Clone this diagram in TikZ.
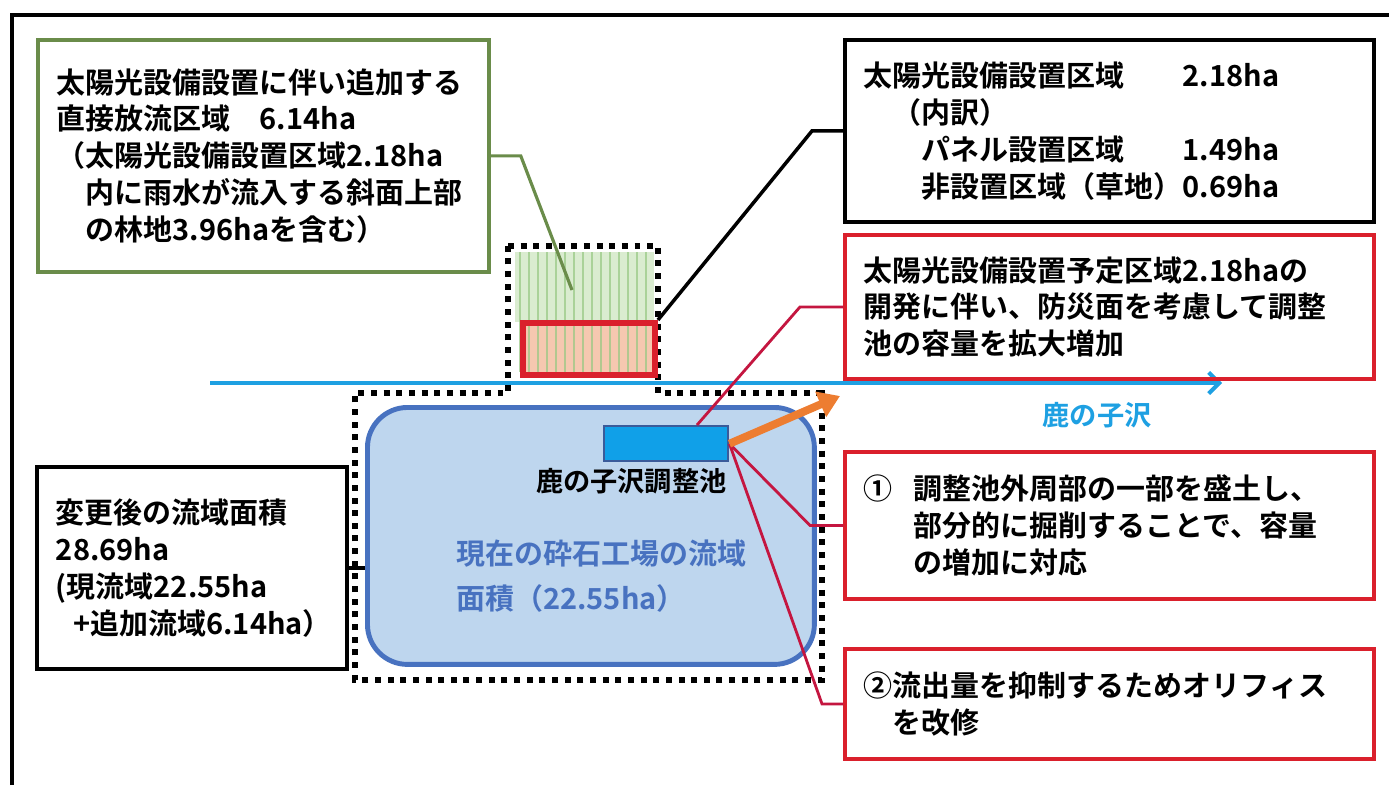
\documentclass[tikz,border=0pt]{standalone}
\usepackage{fontspec}
\setmainfont{Noto Sans CJK JP}[BoldFont={Noto Sans CJK JP Bold}]
\usetikzlibrary{arrows.meta}
\definecolor{boxred}{RGB}{218,32,44}
\definecolor{linkred}{RGB}{196,22,64}
\definecolor{olivegreen}{RGB}{106,140,74}
\definecolor{basinblue}{RGB}{72,114,192}
\definecolor{basinfill}{RGB}{190,214,238}
\definecolor{riverblue}{RGB}{30,160,226}
\definecolor{pondfill}{RGB}{16,160,232}
\definecolor{flowcol}{RGB}{237,125,49}
\definecolor{grass}{RGB}{218,236,208}
\definecolor{salmon}{RGB}{246,200,176}
\definecolor{stripe}{RGB}{150,200,130}

\begin{document}
\begin{tikzpicture}[x=0.02cm,y=-0.02cm,
        every node/.style={font=\fontsize{16.5}{21}\selectfont\bfseries},
        infobox/.style={draw, line width=2.2pt, anchor=north west, align=left,
            inner xsep=0.38cm, text width=9.82cm},
        redbox/.style={infobox, draw=boxred},
        dotline/.style={line width=3.4pt, dash pattern=on 3.4pt off 3.8pt},
        link/.style={linkred, line width=1.6pt}]
    \useasboundingbox (0,0) rectangle (1389,785);
    \draw[line width=2.3pt] (12,785) -- (12,15) -- (1389,15);

    \draw[dotline] (508,246) -- (658,246) -- (658,393) -- (822,393)
        -- (822,680) -- (355,680) -- (355,393) -- (508,393) -- cycle;
    \fill[grass] (515,252) rectangle (654,322);
    \fill[salmon] (520,320) rectangle (652,372);
    \foreach \x in {520,529,...,652}
        \draw[stripe, line width=1.4pt, opacity=0.7] (\x,252) -- (\x,372);
    \node[draw=boxred, line width=3.4pt, anchor=north west,
        minimum width=2.64cm, minimum height=1.04cm] (panel) at (520,320) {};

    \node[draw=basinblue, line width=2.8pt, fill=basinfill, rounded corners=0.8cm,
        anchor=north west, minimum width=8.94cm, minimum height=5.14cm]
        (basin) at (365,405) {};
    \node[draw=basinblue!80!black, line width=1.4pt, fill=pondfill,
        anchor=north west, minimum width=2.48cm, minimum height=0.7cm]
        (pond) at (603,425) {};
    \node[anchor=east, inner sep=0, font=\fontsize{15.5}{19}\selectfont\bfseries]
        (pondlabel) at (727,481) {鹿の子沢調整池};
    \node[anchor=west, align=left, text=basinblue] (basintext) at (450,576)
        {現在の砕石工場の流域\\[5pt]面積（22.55ha）};

    \coordinate (riverstart) at (210,383);
    \coordinate (riverend) at (1222,383);
    \draw[riverblue, line width=2.3pt, -{Straight Barb[length=6pt,width=12pt]}]
        (riverstart) -- (riverend);
    \node[text=riverblue, font=\fontsize{15.5}{19}\selectfont\bfseries]
        (riverlabel) at (1097,415) {鹿の子沢};

    \node[infobox, draw=olivegreen, text width=8.26cm, minimum height=4.64cm]
        (gbox) at (36,38)
        {太陽光設備設置に伴い追加する\\直接放流区域　6.14ha\\（太陽光設備設置区域2.18ha\\　内に雨水が流入する斜面上部\\　の林地3.96haを含む）};
    \node[infobox, minimum height=3.64cm] (kbox) at (843,38)
        {太陽光設備設置区域　　2.18ha\\　（内訳）\\　　パネル設置区域　　1.49ha\\　　非設置区域（草地）0.69ha};
    \node[redbox, minimum height=2.88cm] (rbox1) at (843,233)
        {太陽光設備設置予定区域2.18haの\\開発に伴い、防災面を考慮して調整\\池の容量を拡大増加};
    \node[redbox, minimum height=2.94cm] (rbox2) at (843,450)
        {①\hspace{0.7em}調整池外周部の一部を盛土し、\\\hspace*{1.7em}部分的に掘削することで、容量\\\hspace*{1.7em}の増加に対応};
    \node[redbox, minimum height=2.2cm] (rbox3) at (843,647)
        {②流出量を抑制するためオリフィス\\　を改修};
    \node[infobox, text width=5.44cm, minimum height=4.04cm] (lbox) at (35,465)
        {変更後の流域面積\\28.69ha\\(現流域22.55ha\\\hspace*{0.6em}+追加流域6.14ha）};

    \coordinate (forestpt) at (572,290);
    \coordinate (pondtop) at (697,425);
    \coordinate (flowend) at (840,396);
    \draw[olivegreen, line width=1.8pt] (gbox.east) -- ++(30,0) -- (forestpt);
    \draw[line width=2pt] (kbox.west) -- ++(-31,0) -- (panel.north east);
    \draw[link] (rbox1.west) -- ++(-43,0) -- (pondtop);
    \draw[link] (rbox2.west) -- ++(-33,0) -- (pond.east);
    \draw[link] (rbox3.west) -- ++(-21,0) -- (pond.east);
    \draw[line width=2pt] (lbox.east) -- (lbox.east -| basin.west);
    \draw[flowcol, line width=4.5pt, -{Triangle[length=12pt,width=15pt]}]
        (pond.east) -- (flowend);
\end{tikzpicture}
\end{document}
